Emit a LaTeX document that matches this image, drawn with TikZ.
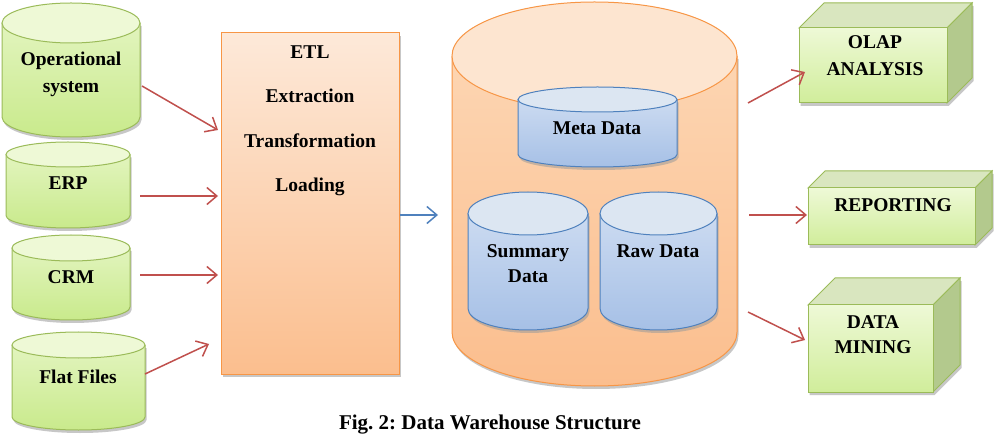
\documentclass[tikz,border=0pt]{standalone}
\usepackage{fontspec}
\setmainfont{Liberation Serif}
\frenchspacing
\usetikzlibrary{arrows.meta}
\definecolor{gborder}{HTML}{9BBB59}
\definecolor{gtop}{HTML}{EEF9D6}
\definecolor{gbodyt}{HTML}{E6F6C6}
\definecolor{gbodyb}{HTML}{C9EA8C}
\definecolor{gface}{HTML}{D9E6BF}
\definecolor{gside}{HTML}{B3C98D}
\definecolor{oborder}{HTML}{F79646}
\definecolor{otop}{HTML}{FDE9D9}
\definecolor{obot}{HTML}{FBBE8E}
\definecolor{octop}{HTML}{FDE5D0}
\definecolor{ocbodyt}{HTML}{FDD9B8}
\definecolor{bborder}{HTML}{4F81BD}
\definecolor{btop}{HTML}{DCE6F2}
\definecolor{bbodyt}{HTML}{D3E0F3}
\definecolor{bbodyb}{HTML}{A6C0E6}
\definecolor{arred}{HTML}{C0504D}
\definecolor{arblue}{HTML}{4F81BD}
\definecolor{shad}{HTML}{9A9A9A}
\tikzset{
  lbl/.style={font=\fontsize{19.5}{27}\selectfont\bfseries, align=center, inner sep=0pt},
  lbltight/.style={font=\fontsize{19.5}{25}\selectfont\bfseries, align=center, inner sep=0pt},
  redarrow/.style={draw=arred, line width=1.5pt, -{Straight Barb[length=10pt,width=17pt,line width=1.5pt]}},
  bluearrow/.style={draw=arblue, line width=1.5pt, -{Straight Barb[length=10pt,width=17pt,line width=1.5pt]}},
  greencyl/.style={draw=gborder, line width=1pt},
  greenbody/.style={top color=gbodyt, bottom color=gbodyb},
  greentop/.style={fill=gtop},
  bluecyl/.style={draw=bborder, line width=1pt},
  bluebody/.style={top color=bbodyt, bottom color=bbodyb},
  bluetop/.style={fill=btop},
  orangecyl/.style={draw=oborder, line width=1pt},
  orangebody/.style={top color=ocbodyt, bottom color=obot},
  orangetop/.style={fill=octop},
  shadowfill/.style={fill=shad, opacity=0.55},
}
% #1 x1, #2 x2, #3 ytop, #4 ybot, #5 ry, #6 prefix (green/blue/orange)
\newcommand\dwcyl[6]{%
  \begin{scope}[shift={(1.5,-3)}]
    \fill[shadowfill] (#1,{#3-#5}) -- (#1,{#4+#5})
      arc[start angle=180,end angle=360,x radius={(#2-#1)/2},y radius=#5]
      -- (#2,{#3-#5}) -- cycle;
  \end{scope}
  \path[#6body] (#1,{#3-#5}) -- (#1,{#4+#5})
      arc[start angle=180,end angle=360,x radius={(#2-#1)/2},y radius=#5]
      -- (#2,{#3-#5})
      arc[start angle=0,end angle=180,x radius={(#2-#1)/2},y radius=#5] -- cycle;
  \draw[#6cyl] (#1,{#3-#5}) -- (#1,{#4+#5})
      arc[start angle=180,end angle=360,x radius={(#2-#1)/2},y radius=#5]
      -- (#2,{#3-#5});
  \filldraw[#6top,#6cyl] ({(#1+#2)/2},{#3-#5}) ellipse[x radius={(#2-#1)/2},y radius=#5];
}
% #1 x1, #2 x2, #3 ytop, #4 ybot, #5 depth
\newcommand\dwcube[5]{%
  \begin{scope}[shift={(1.5,-3)}]
    \fill[shadowfill] (#1,#4) -- (#2,#4) -- ({#2+#5},{#4+#5}) -- ({#2+#5},{#3+#5}) -- (#1,#3) -- cycle;
  \end{scope}
  \filldraw[fill=gface, draw=gborder, line width=1pt] (#1,#3) -- ({#1+#5},{#3+#5}) -- ({#2+#5},{#3+#5}) -- (#2,#3) -- cycle;
  \filldraw[fill=gside, draw=gborder, line width=1pt] (#2,#3) -- ({#2+#5},{#3+#5}) -- ({#2+#5},{#4+#5}) -- (#2,#4) -- cycle;
  \draw[top color=gtop, bottom color=gbodyb!80!gtop, draw=gborder, line width=1pt] (#1,#4) rectangle (#2,#3);
}
\begin{document}
\begin{tikzpicture}[x=1pt,y=1pt]
\useasboundingbox (0,0) rectangle (1001,442);
\fill[white] (0,0) rectangle (1001,442);

% left sources
\dwcyl{2}{140}{439}{305}{20}{green}
\node[lbl] (op) at (71,368) {Operational\\system};
\dwcyl{6}{130}{300}{214}{12.5}{green}
\node[lbl] (erp) at (68,259) {ERP};
\dwcyl{12}{130}{207}{122}{13}{green}
\node[lbl] (crm) at (71,165) {CRM};
\dwcyl{12}{145}{110}{12}{13}{green}
\node[lbl] (flat) at (78,65) {Flat Files};

% ETL
\begin{scope}[shift={(1.5,-3)}]
  \fill[shadowfill] (221,68) rectangle (399,409);
\end{scope}
\node[draw=oborder, line width=1pt, top color=otop, bottom color=obot,
      minimum width=178pt, minimum height=341pt, inner sep=0pt] (etl) at (310,238.5) {};
\node[font=\fontsize{19.5}{44.5}\selectfont\bfseries, align=center, inner sep=0pt] (etltext) at (310,321) {ETL\\Extraction\\Transformation\\Loading};

% warehouse
\dwcyl{452}{737}{440}{56}{54}{orange}
\dwcyl{518}{677}{355}{275}{12.5}{blue}
\node[lbl] (meta) at (597,314) {Meta Data};
\dwcyl{468}{588}{250}{112}{21.5}{blue}
\node[lbltight] (summary) at (528,178) {Summary\\Data};
\dwcyl{600}{717}{250}{112}{21.5}{blue}
\node[lbl] (raw) at (658,191) {Raw Data};

% outputs
\dwcube{799}{947}{414}{339}{25}
\node[lbl] (olap) at (875,386) {OLAP\\ANALYSIS};
\dwcube{808}{975}{254}{197}{17}
\node[lbl] (rep) at (893,237) {REPORTING};
\dwcube{808}{933}{137}{50}{27}
\node[lbltight] (dm) at (873,107) {DATA\\MINING};

% connector endpoints
\coordinate (opA) at (142,356); \coordinate (opB) at (218,312);
\coordinate (erpA) at (140,246); \coordinate (erpB) at (218,246);
\coordinate (crmA) at (140,167); \coordinate (crmB) at (218,167);
\coordinate (flA) at (145,68); \coordinate (flB) at (209,98);
\coordinate (etlA) at (400,227); \coordinate (dwB) at (438,227);
\coordinate (o1A) at (748,339); \coordinate (o1B) at (805,370);
\coordinate (o2A) at (749,227); \coordinate (o2B) at (807,227);
\coordinate (o3A) at (748,130); \coordinate (o3B) at (805,102);

\draw[redarrow] (opA) -- (opB);
\draw[redarrow] (erpA) -- (erpB);
\draw[redarrow] (crmA) -- (crmB);
\draw[redarrow] (flA) -- (flB);
\draw[bluearrow] (etlA) -- (dwB);
\draw[redarrow] (o1A) -- (o1B);
\draw[redarrow] (o2A) -- (o2B);
\draw[redarrow] (o3A) -- (o3B);

% caption
\node[font=\fontsize{21}{24}\selectfont\bfseries, inner sep=0pt] (caption) at (490,17) {Fig. 2: Data Warehouse Structure};
\end{tikzpicture}
\end{document}
